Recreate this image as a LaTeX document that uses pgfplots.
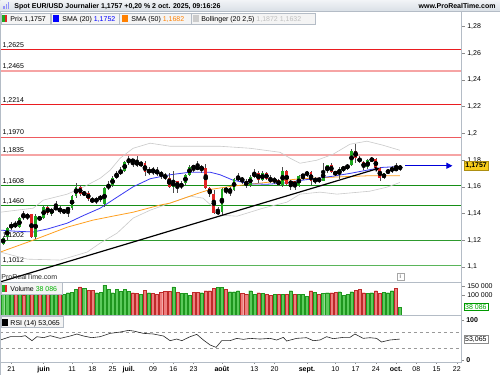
\documentclass[border=0pt]{standalone}
\usepackage{fontspec}
\setmainfont{Liberation Sans}
\usepackage{pgfplots}
\pgfplotsset{compat=1.18}
\usepackage{pgfplotstable}
\usetikzlibrary{arrows.meta}

\definecolor{cgreen}{HTML}{1EA81E}
\definecolor{cred}{HTML}{E02424}
\definecolor{vgreen}{HTML}{5CCB5C}
\definecolor{vgreenD}{HTML}{1E961E}
\definecolor{vred}{HTML}{EE7E7E}
\definecolor{vredD}{HTML}{BE2A2A}
\definecolor{smablue}{HTML}{3A3AF2}
\definecolor{smaorange}{HTML}{FFA020}
\definecolor{bollg}{HTML}{CACACA}
\definecolor{lvred}{HTML}{EA1C20}
\definecolor{lvredL}{HTML}{EE5A5E}
\definecolor{lvpink}{HTML}{F6A4A4}
\definecolor{lvgreen}{HTML}{168F16}
\definecolor{lvgreenM}{HTML}{2E9A2E}
\definecolor{lvgreenL}{HTML}{5AB55A}
\definecolor{hdrtop}{HTML}{F1F3F6}
\definecolor{hdrbot}{HTML}{D9DFE6}
\definecolor{boxbg}{HTML}{F4F4F4}
\definecolor{boxbd}{HTML}{B4BCC6}
\definecolor{lastbox}{HTML}{F7CC1A}

\pgfplotstableread{
x O H L C V up
-2 1.1175 1.1228 1.1165 1.1215 107500 1
-1 1.1222 1.1300 1.1205 1.1290 107500 1
0 1.1290 1.1340 1.1275 1.1320 110900 1
1 1.1320 1.1345 1.1290 1.1305 107500 0
2 1.1300 1.1375 1.1290 1.1365 110900 1
3 1.1395 1.1420 1.1355 1.1365 102400 0
4 1.1365 1.1405 1.1350 1.1395 119500 1
5 1.1395 1.1400 1.1215 1.1225 107500 0
6 1.1225 1.1395 1.1210 1.1385 124600 1
7 1.1372 1.1385 1.1345 1.1355 110900 0
8 1.1365 1.1455 1.1360 1.1448 110900 1
9 1.1448 1.1455 1.1390 1.1405 107500 0
10 1.1400 1.1445 1.1385 1.1435 110900 1
11 1.1435 1.1495 1.1425 1.1445 107500 1
12 1.1445 1.1455 1.1395 1.1410 107500 0
13 1.1410 1.1435 1.1395 1.1425 107500 1
14 1.1425 1.1450 1.1375 1.1440 114300 1
15 1.1440 1.1540 1.1430 1.1530 117700 1
16 1.1530 1.1630 1.1515 1.1600 131400 1
17 1.1600 1.1612 1.1530 1.1545 145000 0
18 1.1545 1.1570 1.1530 1.1555 136500 1
19 1.1555 1.1565 1.1495 1.1505 128000 0
20 1.1505 1.1520 1.1480 1.1490 128000 0
21 1.1490 1.1525 1.1470 1.1510 114300 1
22 1.1505 1.1540 1.1490 1.1530 117700 1
23 1.1470 1.1600 1.1450 1.1590 153600 1
24 1.1590 1.1640 1.1575 1.1615 131400 1
25 1.1615 1.1680 1.1600 1.1665 114300 1
26 1.1665 1.1720 1.1660 1.1700 133100 1
27 1.1700 1.1745 1.1685 1.1720 122900 1
28 1.1720 1.1790 1.1710 1.1785 131400 1
29 1.1785 1.1830 1.1765 1.1800 122900 1
30 1.1800 1.1810 1.1745 1.1790 114300 0
31 1.1790 1.1830 1.1745 1.1760 110900 0
32 1.1760 1.1795 1.1750 1.1778 107500 1
33 1.1778 1.1790 1.1680 1.1710 128000 0
34 1.1710 1.1750 1.1685 1.1724 114300 1
35 1.1724 1.1745 1.1685 1.1718 110900 0
36 1.1718 1.1750 1.1680 1.1700 107500 0
37 1.1700 1.1720 1.1660 1.1690 117700 0
38 1.1690 1.1700 1.1650 1.1665 122900 0
39 1.1665 1.1700 1.1590 1.1600 122900 0
40 1.1600 1.1720 1.1555 1.1640 145000 1
41 1.1640 1.1645 1.1555 1.1595 117700 0
42 1.1595 1.1640 1.1585 1.1625 110900 1
43 1.1625 1.1695 1.1615 1.1690 110900 1
44 1.1690 1.1760 1.1680 1.1750 102400 1
45 1.1750 1.1760 1.1710 1.1745 117700 0
46 1.1745 1.1790 1.1730 1.1738 117700 0
47 1.1738 1.1760 1.1705 1.1742 114300 1
48 1.1742 1.1770 1.1585 1.1590 124600 0
49 1.1590 1.1600 1.1520 1.1545 124600 0
50 1.1545 1.1575 1.1400 1.1405 136500 0
51 1.1405 1.1450 1.1390 1.1415 141600 1
52 1.1415 1.1590 1.1390 1.1585 141600 1
53 1.1585 1.1595 1.1545 1.1570 131400 0
54 1.1570 1.1595 1.1530 1.1575 119500 1
55 1.1575 1.1665 1.1570 1.1660 119500 1
56 1.1660 1.1700 1.1640 1.1668 124600 1
57 1.1668 1.1675 1.1620 1.1640 110900 0
58 1.1640 1.1655 1.1590 1.1615 107500 0
59 1.1615 1.1690 1.1600 1.1675 124600 1
60 1.1675 1.1730 1.1665 1.1705 107500 1
61 1.1705 1.1715 1.1630 1.1650 114300 0
62 1.1650 1.1715 1.1640 1.1700 110900 1
63 1.1700 1.1710 1.1650 1.1660 107500 0
64 1.1660 1.1690 1.1625 1.1645 102400 0
65 1.1645 1.1675 1.1620 1.1650 107500 1
66 1.1650 1.1660 1.1605 1.1610 107500 0
67 1.1610 1.1745 1.1600 1.1720 107500 1
68 1.1720 1.1725 1.1615 1.1620 107500 0
69 1.1620 1.1650 1.1575 1.1640 124600 1
70 1.1640 1.1645 1.1575 1.1605 107500 0
71 1.1605 1.1690 1.1600 1.1680 107500 1
72 1.1680 1.1695 1.1650 1.1686 107500 1
73 1.1686 1.1720 1.1675 1.1712 97300 1
74 1.1712 1.1720 1.1610 1.1640 124600 0
75 1.1640 1.1675 1.1620 1.1660 116000 1
76 1.1660 1.1670 1.1630 1.1645 107500 0
77 1.1645 1.1780 1.1640 1.1720 110900 1
78 1.1720 1.1765 1.1700 1.1760 114300 1
79 1.1760 1.1780 1.1700 1.1710 114300 0
80 1.1710 1.1720 1.1680 1.1695 117700 0
81 1.1695 1.1750 1.1660 1.1735 119500 1
82 1.1735 1.1755 1.1710 1.1740 100700 1
83 1.1740 1.1770 1.1725 1.1762 107500 1
84 1.1762 1.1880 1.1755 1.1868 119500 1
85 1.1868 1.1920 1.1780 1.1815 128000 0
86 1.1815 1.1830 1.1775 1.1785 131400 0
87 1.1785 1.1790 1.1725 1.1745 114300 0
88 1.1745 1.1805 1.1730 1.1800 110900 1
89 1.1800 1.1820 1.1785 1.1806 114300 1
90 1.1806 1.1815 1.1735 1.1740 124600 0
91 1.1740 1.1750 1.1645 1.1665 110900 0
92 1.1665 1.1705 1.1660 1.1700 117700 1
93 1.1700 1.1735 1.1695 1.1725 114300 1
94 1.1725 1.1755 1.1705 1.1735 124600 1
95 1.1735 1.1780 1.1715 1.1730 136500 0
96 1.1730 1.1765 1.1720 1.1757 38086 1
}\candles

\pgfplotstableread{
x y
-2.71 1.1276
1.0 1.1268
5.43 1.1262
9.0 1.1285
13.81 1.1328
17.8 1.1385
21.95 1.1440
26.0 1.1520
30.09 1.1600
34.28 1.1660
39.21 1.1690
44.14 1.1709
49.1 1.1709
51.54 1.1690
54.7 1.1650
58.94 1.1622
63.1 1.1619
67.1 1.1627
71.3 1.1647
75.5 1.1664
79.4 1.1679
83.6 1.1700
87.8 1.1724
91.7 1.1745
95.93 1.1752
}\smaA

\pgfplotstableread{
x y
-2.71 1.1112
5.43 1.1201
13.81 1.1298
20.2 1.1351
25.0 1.1380
30.09 1.1410
36.7 1.1463
39.2 1.1478
46.6 1.1556
49.1 1.1580
54.7 1.1605
63.1 1.1633
71.3 1.1660
79.4 1.1672
87.8 1.1682
95.93 1.1682
}\smaB

\pgfplotstableread{
x y
-2.71 1.1410
5.43 1.1440
7.89 1.1500
13.81 1.1545
17.76 1.1597
21.95 1.1664
24.41 1.1724
26.88 1.1814
30.09 1.1888
34.28 1.1926
39.21 1.1903
45.87 1.1903
51.54 1.1903
58.94 1.1888
66.34 1.1858
68.80 1.1814
71.27 1.1776
75.46 1.1799
79.41 1.1843
83.60 1.1918
87.79 1.1941
91.74 1.1911
95.93 1.1873
}\bolU

\pgfplotstableread{
x y
-2.71 1.1112
3.95 1.1059
12.08 1.1052
18.74 1.1112
21.95 1.1179
26.14 1.1254
30.09 1.1366
34.28 1.1425
39.21 1.1478
44.14 1.1530
47.35 1.1515
49.82 1.1448
51.54 1.1388
55.73 1.1380
62.15 1.1440
68.06 1.1485
71.27 1.1545
76.20 1.1560
80.39 1.1545
88.53 1.1567
92.73 1.1597
95.93 1.1632
}\bolL

\pgfplotstableread{
x r
-2.71 50.8
-0.25 59.1
2.22 59.1
3.45 61.6
5.10 49.1
6.33 59.1
7.97 56.6
9.62 61.6
12.08 54.9
14.55 60.8
16.19 65.8
17.84 60.8
19.89 56.6
21.95 59.1
24.41 67.4
26.88 70.7
28.94 74.9
30.17 73.3
32.64 67.4
35.10 65.8
37.57 60.8
39.21 49.1
40.86 53.2
42.09 49.1
44.14 59.1
45.79 64.9
47.43 50.8
49.08 38.3
50.56 32.4
51.95 49.1
54.01 49.1
55.65 54.9
57.30 52.4
58.94 54.9
61.41 53.2
63.87 54.9
65.52 50.8
67.16 57.4
67.98 48.3
70.45 54.9
72.91 56.6
74.56 49.1
76.20 50.8
77.85 59.1
79.49 54.1
81.96 57.4
83.60 57.4
84.84 65.8
86.89 54.9
88.53 56.6
90.18 54.9
91.41 45.8
93.47 50.8
95.12 52.4
95.94 53.1
}\rsi

\newcommand{\tf}{\fontsize{7}{8}\selectfont}

\begin{document}
\begin{tikzpicture}[x=1pt,y=1pt]
\fill[white] (0,0) rectangle (500,375);

\pgfplotsset{panel/.style={scale only axis, anchor=south west, width=462pt,
  xmin=-2.713, xmax=111.22, axis line style={draw=none}, xtick=\empty,
  ytick pos=right, yticklabel pos=right, tick align=outside,
  major tick length=3pt, tick style={color=black!45, line width=0.4pt},
  yticklabel style={font=\tf, xshift=-1pt}, scaled y ticks=false}}

% ---------- price panel ----------
\begin{axis}[panel, at={(0pt,93pt)}, height=271pt, ymin=1.08875, ymax=1.29114,
  ytick={1.1,1.12,1.14,1.16,1.18,1.2,1.22,1.24,1.26,1.28},
  yticklabels={{1,1},{1,12},{1,14},{1,16},{1,18},{1,2},{1,22},{1,24},{1,26},{1,28}}]
  % levels
  \addplot[forget plot, draw=lvpink, line width=1.8pt] coordinates {(-2.713,1.2465)(111.22,1.2465)};
  \addplot[forget plot, draw=lvred, line width=1.1pt] coordinates {(-2.713,1.2625)(111.22,1.2625)};
  \addplot[forget plot, draw=lvred, line width=1.0pt] coordinates {(-2.713,1.2214)(111.22,1.2214)};
  \addplot[forget plot, draw=lvredL, line width=1.2pt] coordinates {(-2.713,1.1970)(111.22,1.1970)};
  \addplot[forget plot, draw=lvpink, line width=1.8pt] coordinates {(-2.713,1.1835)(111.22,1.1835)};
  \addplot[forget plot, draw=lvgreen, line width=1.4pt] coordinates {(-2.713,1.1608)(111.22,1.1608)};
  \addplot[forget plot, draw=lvgreen, line width=1.4pt] coordinates {(-2.713,1.1460)(111.22,1.1460)};
  \addplot[forget plot, draw=lvgreenM, line width=0.9pt] coordinates {(-2.713,1.1202)(111.22,1.1202)};
  \addplot[forget plot, draw=lvgreenL, line width=0.9pt] coordinates {(-2.713,1.1012)(111.22,1.1012)};
  \foreach \lv/\lt in {1.2625/{1,2625},1.2465/{1,2465},1.2214/{1,2214},1.1970/{1,1970},1.1835/{1,1835},1.1608/{1,1608},1.1460/{1,1460},1.1202/{1,1202},1.1012/{1,1012}}{
    \edef\tmp{\noexpand\node[font=\noexpand\tf, anchor=base west, inner sep=0pt, yshift=2.5pt] at (axis cs:-2.2,\lv) {\lt};}\tmp
  }
  % indicators
  \addplot[forget plot, draw=bollg, line width=0.6pt] table[x=x,y=y] {\bolU};
  \addplot[forget plot, draw=bollg, line width=0.6pt] table[x=x,y=y] {\bolL};
  \addplot[forget plot, draw=smaorange, line width=0.8pt] table[x=x,y=y] {\smaB};
  \addplot[forget plot, draw=smablue, line width=0.8pt] table[x=x,y=y] {\smaA};
  % wicks
  \addplot[forget plot, only marks, mark=none,
    error bars/.cd, y dir=both, y explicit, error mark=none,
    error bar style={line width=0.6pt, color=black!70, solid}]
    table[x=x, y expr={(\thisrow{H}+\thisrow{L})/2}, y error expr={(\thisrow{H}-\thisrow{L})/2}] {\candles};
  % green bodies
  \addplot[forget plot, only marks, mark=none,
    error bars/.cd, y dir=both, y explicit, error mark=none,
    error bar style={line width=2.8pt, color=cgreen, solid}]
    table[x=x, y expr={(\thisrow{O}+\thisrow{C})/2}, y error expr={\thisrow{up}*abs(\thisrow{C}-\thisrow{O})/2}] {\candles};
  % red bodies
  \addplot[forget plot, only marks, mark=none,
    error bars/.cd, y dir=both, y explicit, error mark=none,
    error bar style={line width=2.8pt, color=cred, solid}]
    table[x=x, y expr={(\thisrow{O}+\thisrow{C})/2}, y error expr={(1-\thisrow{up})*abs(\thisrow{C}-\thisrow{O})/2}] {\candles};
  % trend line and arrow
  \addplot[forget plot, draw=black, line width=1.2pt, -{Triangle[width=5pt,length=4pt]}] coordinates {(-2.713,1.0889)(90.8,1.1739)};
  \addplot[forget plot, draw=blue!85!black, line width=0.9pt, -{Triangle[width=6pt,length=6pt]}] coordinates {(97.2,1.1757)(108.9,1.1757)};
\end{axis}

% ---------- volume panel ----------
\begin{axis}[panel, at={(0pt,60pt)}, height=33pt, ymin=0, ymax=168942,
  ytick={100000,150000}, yticklabels={{100 000},{150 000}}]
  \addplot[forget plot, ybar, bar shift=0pt, bar width=3.1pt, fill=vred, draw=vredD, line width=0.4pt,
    restrict y to domain=1:1000000]
    table[x=x, y expr={\thisrow{V}*(1-\thisrow{up})}] {\candles};
  \addplot[forget plot, ybar, bar shift=0pt, bar width=3.1pt, fill=vgreen, draw=vgreenD, line width=0.4pt,
    restrict y to domain=1:1000000]
    table[x=x, y expr={\thisrow{V}*\thisrow{up}}] {\candles};
\end{axis}

% ---------- RSI panel ----------
\begin{axis}[panel, at={(0pt,13pt)}, height=47pt, ymin=-4.25, ymax=113.25,
  ytick={0,100}, yticklabels={\textbf{0},\textbf{100}},
  xtick={0,8,15,20,25,29,35,40,45,52,60,65,73,80,85,90,95,100,105,110},
  xticklabels={21,\textbf{juin},11,18,25,\textbf{juil.},09,16,23,\textbf{août},13,20,\textbf{sept.},10,17,24,\textbf{oct.},08,15,22},
  xtick pos=bottom, xticklabel style={font=\tf, yshift=1pt}, major tick length=2pt]
  \addplot[forget plot, draw=black!40, dashed, line width=0.5pt] coordinates {(-2.713,70)(111.22,70)};
  \addplot[forget plot, draw=black!40, dashed, line width=0.5pt] coordinates {(-2.713,30)(111.22,30)};
  \addplot[forget plot, draw=black!85, line width=0.6pt] table[x=x,y=r] {\rsi};
\end{axis}

% ---------- frame ----------
\draw[boxbd, line width=0.7pt] (462,13) -- (462,364);
\draw[boxbd, line width=0.6pt] (0,93) -- (462,93);
\draw[boxbd, line width=0.6pt] (0,60) -- (462,60);
\draw[boxbd, line width=0.6pt] (0,13) -- (462,13);
\draw[boxbd, line width=0.8pt] (0.4,0) -- (0.4,375);

% watermark and info icon
\node[font=\tf, text=black!85, anchor=base west, inner sep=0pt] at (1,95.5) {ProRealTime.com};
\draw[black!35, fill=white, line width=0.5pt] (397,95) rectangle (404,102);
\node[font=\fontsize{5.5}{6}\selectfont\bfseries, text=black!50, inner sep=0pt] at (400.5,98.5) {i};

% ---------- header ----------
\shade[top color=hdrtop, bottom color=hdrbot] (0,364) rectangle (500,375);
\draw[boxbd, line width=0.5pt] (0,364) -- (500,364);
\fill[smablue!55] (3,366) rectangle (4.3,369);
\fill[smablue!55] (5.3,366) rectangle (6.6,371);
\fill[smablue!55] (7.6,366) rectangle (8.9,373);
\node[font=\tf\bfseries, anchor=base west, inner sep=0pt] at (14,366.6) {Spot EUR/USD Journalier 1,1757 +0,20 \% 2 oct. 2025, 09:16:26};
\node[font=\tf\bfseries, anchor=base east, inner sep=0pt] at (496,366.6) {www.ProRealTime.com};

% legend boxes
\draw[boxbd, fill=boxbg, line width=0.5pt] (0.5,351) rectangle (50.5,362);
\fill[cgreen] (2,353) rectangle (4.5,360);
\fill[cred] (4.5,353) rectangle (7,360);
\node[font=\tf, anchor=base west, inner sep=0pt] at (10,353.5) {Prix 1,1757};
\draw[boxbd, fill=boxbg, line width=0.5pt] (51,351) rectangle (119,362);
\fill[blue] (53,353) rectangle (59,360);
\node[font=\tf, anchor=base west, inner sep=0pt] at (62,353.5) {SMA (20) \textcolor{blue}{1,1752}};
\draw[boxbd, fill=boxbg, line width=0.5pt] (119.5,351) rectangle (191,362);
\fill[orange] (122,353) rectangle (128,360);
\node[font=\tf, anchor=base west, inner sep=0pt] at (131,353.5) {SMA (50) \textcolor{orange}{1,1682}};
\draw[boxbd, fill=boxbg, line width=0.5pt] (191.5,351) rectangle (315,362);
\fill[black!20] (193,353) rectangle (199,360);
\node[font=\tf, anchor=base west, inner sep=0pt] at (201,353.5) {Bollinger (20 2,5) \textcolor{black!25}{1,1872 1,1632}};

% volume legend
\draw[boxbd, fill=boxbg, line width=0.5pt] (0.5,81) rectangle (62,92.5);
\fill[cgreen] (2,83) rectangle (4.5,90);
\fill[cred] (4.5,83) rectangle (7,90);
\node[font=\tf, anchor=base west, inner sep=0pt] at (10,83.5) {Volume \textcolor{green!70!black}{38 086}};
% RSI legend
\draw[boxbd, fill=boxbg, line width=0.5pt] (0.5,47.5) rectangle (63,58.5);
\fill[black] (2,49.5) rectangle (8,56.5);
\node[font=\tf, anchor=base west, inner sep=0pt] at (10,50) {RSI (14) 53,065};

% right value boxes
\node[font=\tf\bfseries, fill=lastbox, draw=lastbox!70!black, line width=0.4pt, inner xsep=1.5pt, inner ysep=1.5pt, anchor=west] at (464,209.4) {1,1757};
\node[font=\tf, text=green!65!black, fill=white, draw=green!60!black, line width=0.4pt, inner xsep=1.2pt, inner ysep=1.2pt, anchor=west] at (464,68.3) {38 086};
\node[font=\tf, fill=white, draw=black!45, line width=0.4pt, inner xsep=1.2pt, inner ysep=1.2pt, anchor=west] at (464,36) {53,065};
\end{tikzpicture}
\end{document}
